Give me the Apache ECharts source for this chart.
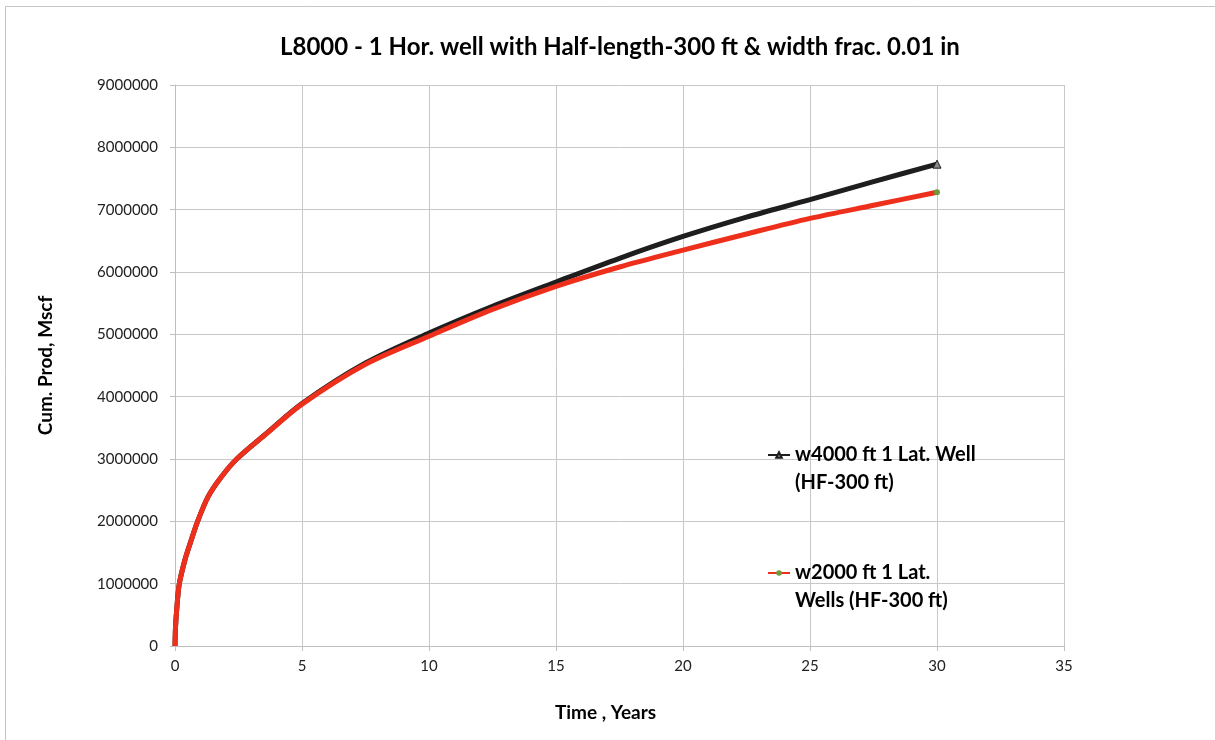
<!DOCTYPE html>
<html>
<head>
<meta charset="utf-8">
<script src="https://cdn.jsdelivr.net/npm/echarts@6/dist/echarts.min.js"></script>
<style>
html,body{margin:0;padding:0;background:#fff;}
#chart{width:1215px;height:740px;}
</style>
</head>
<body>
<div id="chart"></div>
<script>
// Time in years
var timeYears = [0, 0.02, 0.08, 0.17, 0.39, 0.6, 0.89, 1.31, 1.8, 2.43, 3.54, 5, 7.5, 10, 12.5, 15, 17.5, 20, 22.5, 25, 27.5, 30];
// Cumulative production, Mscf
var cumW4000 = [0, 300000, 650000, 1000000, 1380000, 1650000, 2000000, 2400000, 2700000, 3000000, 3390000, 3890000, 4540000, 5020000, 5450000, 5840000, 6220000, 6570000, 6880000, 7160000, 7450000, 7730000];
var cumW2000 = [0, 300000, 650000, 1000000, 1380000, 1650000, 2000000, 2400000, 2700000, 3000000, 3385000, 3880000, 4520000, 4970000, 5400000, 5770000, 6080000, 6350000, 6610000, 6860000, 7070000, 7280000];
var seriesNames = ['w4000 ft 1 Lat. Well\n(HF-300 ft)', 'w2000 ft 1 Lat.\nWells (HF-300 ft)'];
var xTicks = [0, 5, 10, 15, 20, 25, 30, 35];
var yTicks = [0, 1000000, 2000000, 3000000, 4000000, 5000000, 6000000, 7000000, 8000000, 9000000];
var titleText = 'L8000 - 1 Hor. well with Half-length-300 ft & width frac. 0.01 in';

function buildData(vals, endSymbol) {
  return timeYears.map(function (t, i) {
    return {
      value: [t, vals[i]],
      symbol: i === timeYears.length - 1 ? endSymbol : 'none'
    };
  });
}

var FONT = 'Lato';
var chart = echarts.init(document.getElementById('chart'), null, {renderer: 'canvas'});
var legendText = {fontFamily: FONT, fontWeight: 'bold', fontSize: 20, color: '#000', lineHeight: 28};
function legendFmt(name) { return ' \n' + name; }
chart.setOption({
  animation: false,
  backgroundColor: '#fff',
  textStyle: {fontFamily: FONT},
  graphic: [{
    type: 'rect', left: 3, top: 4,
    shape: {width: 1230, height: 760},
    style: {fill: 'none', stroke: '#c4c4c4', lineWidth: 1},
    silent: true, z: -10
  }],
  title: {
    text: titleText,
    left: 275, top: 30,
    textStyle: {fontFamily: FONT, fontWeight: 'bold', fontSize: 24, color: '#000'}
  },
  grid: {left: 175, right: 151, top: 85, bottom: 94, containLabel: false},
  legend: [{
    data: [seriesNames[0]],
    orient: 'vertical', left: 767, top: 413, padding: 0,
    itemWidth: 22, itemHeight: 7, itemGap: 0,
    lineStyle: {width: 2},
    formatter: legendFmt,
    textStyle: legendText
  }, {
    data: [seriesNames[1]],
    orient: 'vertical', left: 767, top: 531, padding: 0,
    itemWidth: 22, itemHeight: 7, itemGap: 0,
    lineStyle: {width: 2},
    formatter: legendFmt,
    textStyle: legendText
  }],
  xAxis: {
    type: 'value', min: xTicks[0], max: xTicks[xTicks.length - 1], interval: 5,
    name: 'Time , Years', nameLocation: 'middle', nameGap: 57,
    nameTextStyle: {fontFamily: FONT, fontWeight: 'bold', fontSize: 19, color: '#000', padding: [0, 28, 0, 0]},
    axisLine: {show: true, lineStyle: {color: '#bfbfbf', width: 1}},
    axisTick: {show: true, length: 5, lineStyle: {color: '#bfbfbf'}},
    axisLabel: {fontFamily: FONT, fontSize: 15, color: '#222', margin: 13},
    splitLine: {show: true, lineStyle: {color: '#c8c8c8', width: 1}}
  },
  yAxis: {
    type: 'value', min: yTicks[0], max: yTicks[yTicks.length - 1], interval: 1000000,
    name: 'Cum. Prod, Mscf', nameLocation: 'middle', nameGap: 120,
    nameTextStyle: {fontFamily: FONT, fontWeight: 'bold', fontSize: 19, color: '#000'},
    axisLine: {show: true, lineStyle: {color: '#bfbfbf', width: 1}},
    axisTick: {show: true, length: 5, lineStyle: {color: '#bfbfbf'}},
    axisLabel: {fontFamily: FONT, fontSize: 15, color: '#222', margin: 17,
      formatter: function (v) { return String(v); }},
    splitLine: {show: true, lineStyle: {color: '#c8c8c8', width: 1}}
  },
  series: [{
    name: seriesNames[0], type: 'line', smooth: 0.3,
    symbol: 'triangle', symbolSize: 8, showSymbol: true,
    data: buildData(cumW4000, 'triangle'),
    lineStyle: {color: '#1e1e1e', width: 5},
    itemStyle: {color: '#8a8a8a', borderColor: '#1e1e1e', borderWidth: 1},
    z: 2
  }, {
    name: seriesNames[1], type: 'line', smooth: 0.3,
    symbol: 'circle', symbolSize: 6, showSymbol: true,
    data: buildData(cumW2000, 'circle'),
    lineStyle: {color: '#ee2f1c', width: 5},
    itemStyle: {color: '#6c9a3c', borderColor: '#6c9a3c', borderWidth: 0},
    z: 3
  }]
});
</script>
</body>
</html>
